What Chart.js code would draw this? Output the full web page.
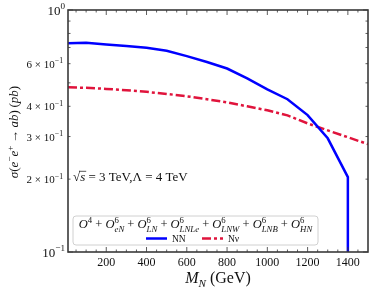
<!DOCTYPE html>
<html>
<head>
<meta charset="utf-8">
<script src="https://cdn.jsdelivr.net/npm/chart.js@4.4.0/dist/chart.umd.min.js"></script>
<style>
  body { margin: 0; background: #fff; }
</style>
</head>
<body>
<canvas id="grafica" width="374" height="291"></canvas>
<script>
// valores
const masas = [10, 100, 200, 300, 400, 500, 600, 700, 800, 900, 1000, 1100, 1200, 1300, 1400, 1500];
const sigmaNN = [0.728, 0.733, 0.72, 0.71, 0.698, 0.678, 0.645, 0.61, 0.573, 0.522, 0.470, 0.428, 0.368, 0.295, 0.204, 0.0001];
const sigmaNnu = [0.479, 0.477, 0.472, 0.466, 0.459, 0.450, 0.440, 0.428, 0.415, 0.400, 0.385, 0.367, 0.340, 0.318, 0.298, 0.279];
const xTicks = [200, 400, 600, 800, 1000, 1200, 1400];
const yMayores = [0.1, 1];
const yMenoresConEtiqueta = [0.2, 0.3, 0.4, 0.6];
const etiquetas = ["NN", "N\u03bd"];

const SERIF = "'Liberation Serif', 'DejaVu Serif', serif";

// el ultimo punto de NN es ~0 (en log baja en vertical hasta el eje)
const puntosNN = masas.map((m, i) => ({ x: i == masas.length - 1 ? 1400 : m, y: sigmaNN[i] }));
const puntosNnu = masas.map((m, i) => ({ x: m, y: sigmaNnu[i] }));

// texto con sub/superindices: [texto, estilo]
function fuente(estilo, size) {
  let it = estilo.indexOf("i") >= 0 ? "italic " : "";
  let s = size;
  if (estilo.startsWith("sup") || estilo.startsWith("sub")) s = size * 0.7;
  return it + s + "px " + SERIF;
}
function anchoParte(ctx, p, size) {
  if (p[1] == "ss") {
    let [a, b] = p[0].split("|");
    ctx.font = fuente("sup", size);
    let w1 = ctx.measureText(a).width;
    ctx.font = fuente("subi", size);
    let w2 = ctx.measureText(b).width;
    return Math.max(w1, w2);
  }
  ctx.font = fuente(p[1], size);
  return ctx.measureText(p[0]).width;
}
function textoRico(ctx, partes, x, y, size, align) {
  let total = 0;
  partes.forEach((p) => (total += anchoParte(ctx, p, size)));
  let cx = x;
  if (align == "center") cx = x - total / 2;
  if (align == "right") cx = x - total;
  ctx.textBaseline = "alphabetic";
  ctx.textAlign = "left";
  partes.forEach((p) => {
    let w = anchoParte(ctx, p, size);
    if (p[1] == "ss") {
      let [a, b] = p[0].split("|");
      ctx.font = fuente("sup", size);
      ctx.fillText(a, cx, y - size * 0.42);
      ctx.font = fuente("subi", size);
      ctx.fillText(b, cx, y + size * 0.28);
    } else {
      ctx.font = fuente(p[1], size);
      let dy = 0;
      if (p[1].startsWith("sup")) dy = -size * 0.42;
      if (p[1].startsWith("sub")) dy = size * 0.28;
      ctx.fillText(p[0], cx, y + dy);
      if (p[1] == "oli") {
        ctx.fillRect(cx - 1, y - size * 0.78, w + 2, 0.7);
      }
    }
    cx += w;
  });
  return total;
}

const decoracion = {
  id: "decoracion",
  afterDraw(chart) {
    const ctx = chart.ctx;
    const a = chart.chartArea;
    const xs = chart.scales.x;
    const ys = chart.scales.y;
    ctx.save();
    ctx.fillStyle = "#111";
    ctx.strokeStyle = "#333";
    // ticks hacia dentro
    ctx.lineWidth = 0.8;
    ctx.beginPath();
    for (let v = 50; v < 1500; v += 50) {
      let px = xs.getPixelForValue(v);
      let l = v % 200 == 0 ? 5 : 2.5;
      ctx.moveTo(px, a.bottom); ctx.lineTo(px, a.bottom - l);
      ctx.moveTo(px, a.top); ctx.lineTo(px, a.top + l);
    }
    for (let k = 1; k <= 10; k++) {
      let v = k / 10;
      let py = ys.getPixelForValue(v);
      let l = (k == 1 || k == 10) ? 5 : 2.5;
      ctx.moveTo(a.left, py); ctx.lineTo(a.left + l, py);
      ctx.moveTo(a.right, py); ctx.lineTo(a.right - l, py);
    }
    ctx.stroke();
    // marco
    ctx.lineWidth = 1.6;
    ctx.strokeStyle = "#3a3a3a";
    ctx.strokeRect(a.left, a.top, a.right - a.left, a.bottom - a.top);

    // etiquetas eje y
    yMayores.forEach((v) => {
      let py = ys.getPixelForValue(v);
      let exp = v == 1 ? "0" : "\u22121";
      textoRico(ctx, [["10", "n"], [exp, "sup"]], a.left - 3, py + 4.5, 13, "right");
    });
    yMenoresConEtiqueta.forEach((v) => {
      let py = ys.getPixelForValue(v);
      textoRico(ctx, [[String(Math.round(v * 10)) + " \u00d7 10", "n"], ["\u22121", "sup"]], a.left - 5, py + 4, 11, "right");
    });

    // titulos de ejes
    textoRico(ctx, [["M", "i"], ["N", "subi"], [" (GeV)", "n"]], (a.left + a.right) / 2, 283, 16, "center");
    ctx.save();
    ctx.translate(18, 132);
    ctx.rotate(-Math.PI / 2);
    textoRico(ctx, [["\u03c3", "i"], ["(", "n"], ["e", "i"], ["\u2212", "sup"], ["e", "i"], ["+", "sup"],
      ["\u2009\u2192\u2009", "n"], ["ab", "i"], [")\u2009(", "n"], ["pb", "i"], [")", "n"]], 0, 0, 13, "center");
    ctx.restore();

    // anotacion
    textoRico(ctx, [["\u221a", "n"], ["s", "oli"], [" = 3 TeV,\u039b = 4 TeV", "n"]], a.left + 5, 181, 13, "left");

    // leyenda
    let lx = a.left + 5, ly = 216, lw = 245, lh = 29;
    ctx.beginPath();
    ctx.roundRect(lx, ly, lw, lh, 3);
    ctx.fillStyle = "rgba(255,255,255,0.85)";
    ctx.fill();
    ctx.lineWidth = 1;
    ctx.strokeStyle = "#d0d0d0";
    ctx.stroke();
    ctx.fillStyle = "#111";
    textoRico(ctx, [["O", "i"], ["4", "sup"], [" + ", "n"], ["O", "i"], ["6|eN", "ss"], [" + ", "n"],
      ["O", "i"], ["6|LN", "ss"], [" + ", "n"], ["O", "i"], ["6|LNLe", "ss"], [" + ", "n"],
      ["O", "i"], ["6|LNW", "ss"], [" + ", "n"], ["O", "i"], ["6|LNB", "ss"], [" + ", "n"],
      ["O", "i"], ["6|HN", "ss"]], lx + lw / 2, ly + 12, 12.5, "center");
    const entradas = [[146, 172], [202, 228]];
    chart.data.datasets.forEach((ds, i) => {
      let [x0, xt] = entradas[i];
      ctx.beginPath();
      ctx.setLineDash(ds.borderDash || []);
      ctx.strokeStyle = ds.borderColor;
      ctx.lineWidth = ds.borderWidth;
      ctx.moveTo(x0, ly + 22.5); ctx.lineTo(x0 + 21, ly + 22.5);
      ctx.stroke();
      ctx.setLineDash([]);
      ctx.fillStyle = "#111";
      textoRico(ctx, [[ds.label, "n"]], xt, ly + 26, 9.5, "left");
    });
    ctx.restore();
  }
};

new Chart(document.getElementById("grafica"), {
  type: "line",
  data: {
    datasets: [
      {
        label: etiquetas[0],
        data: puntosNN,
        borderColor: "#0000ff",
        borderWidth: 2.5,
        pointRadius: 0,
        tension: 0
      },
      {
        label: etiquetas[1],
        data: puntosNnu,
        borderColor: "#e0143c",
        borderWidth: 2.5,
        borderDash: [9, 3, 3, 3],
        pointRadius: 0,
        tension: 0
      }
    ]
  },
  options: {
    responsive: false,
    animation: false,
    devicePixelRatio: 1,
    layout: { padding: { top: 10, right: 6, left: 0, bottom: 0 } },
    plugins: { legend: { display: false }, tooltip: { enabled: false } },
    scales: {
      x: {
        type: "linear",
        min: 10,
        max: 1500,
        afterBuildTicks: (s) => { s.ticks = xTicks.map((v) => ({ value: v })); },
        afterFit: (s) => { s.height = 39; },
        grid: { display: false, drawTicks: false },
        border: { display: false },
        ticks: {
          font: { family: SERIF, size: 12 },
          color: "#111",
          padding: 4,
          maxRotation: 0,
          callback: (v) => String(v)
        }
      },
      y: {
        type: "logarithmic",
        min: 0.1,
        max: 1,
        afterFit: (s) => { s.width = 68; },
        grid: { display: false, drawTicks: false },
        border: { display: false },
        ticks: { display: false }
      }
    }
  },
  plugins: [decoracion]
});
</script>
</body>
</html>
